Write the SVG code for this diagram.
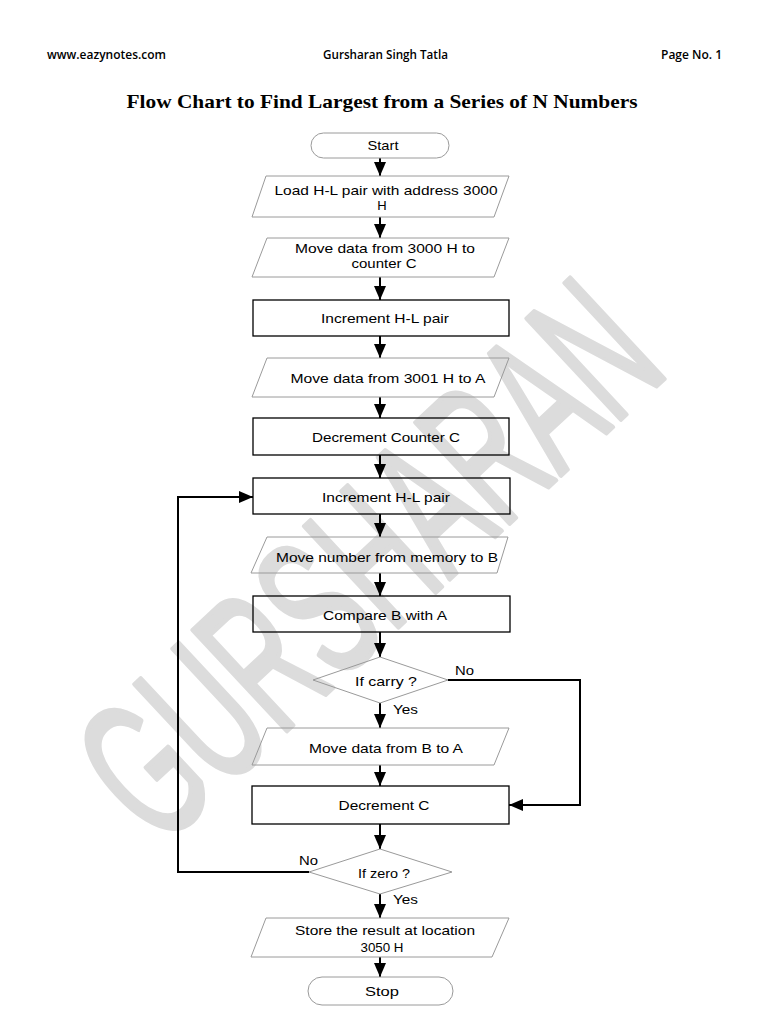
<svg xmlns="http://www.w3.org/2000/svg" width="768" height="1024" viewBox="0 0 768 1024">
<defs>
<marker id="ah" viewBox="0 0 14 12" refX="14" refY="6" markerWidth="14" markerHeight="12" markerUnits="userSpaceOnUse" orient="auto">
<path d="M0,0 L14,6 L0,12 z" fill="#000"/>
</marker>
<style>
.t{font-family:"Liberation Sans",Arial,sans-serif;font-size:13px;fill:#000;text-anchor:middle}
.lbl{font-family:"Liberation Sans",Arial,sans-serif;font-size:13px;fill:#000}
.hdr{font-family:"Open Sans","Liberation Sans",sans-serif;font-size:12px;font-weight:600;fill:#000}
.rect{fill:none;stroke:#000;stroke-width:1.3}
.soft{fill:none;stroke:#9a9a9a;stroke-width:1}
.c{fill:none;stroke:#000;stroke-width:2}
.ca{fill:none;stroke:#000;stroke-width:2;marker-end:url(#ah)}
</style>
</defs>
<rect width="768" height="1024" fill="#fff"/>
<text x="368" y="560" transform="rotate(-43 368 560)" font-family="Liberation Sans,Arial,sans-serif" font-size="200" fill="#dcdcdc" stroke="#dcdcdc" stroke-width="5" stroke-linejoin="round" text-anchor="middle" dominant-baseline="central" textLength="700" lengthAdjust="spacingAndGlyphs">GURSHARAN</text>
<g id="header">
<text class="hdr" x="47" y="59" textLength="119" lengthAdjust="spacingAndGlyphs">www.eazynotes.com</text>
<text class="hdr" x="323" y="59" textLength="125" lengthAdjust="spacingAndGlyphs">Gursharan Singh Tatla</text>
<text class="hdr" x="661" y="59" textLength="61" lengthAdjust="spacingAndGlyphs">Page No. 1</text>
<text x="382" y="108" font-family="Liberation Serif,serif" font-size="19" font-weight="bold" text-anchor="middle" textLength="511" lengthAdjust="spacingAndGlyphs">Flow Chart to Find Largest from a Series of N Numbers</text>
</g>
<g id="connectors">
<line class="ca" x1="380" y1="158" x2="380" y2="176"/>
<line class="ca" x1="380" y1="217" x2="380" y2="238"/>
<line class="ca" x1="380" y1="277" x2="380" y2="300"/>
<line class="ca" x1="380" y1="336" x2="380" y2="358"/>
<line class="ca" x1="380" y1="397" x2="380" y2="418"/>
<line class="ca" x1="380" y1="455" x2="380" y2="478"/>
<line class="ca" x1="380" y1="514" x2="380" y2="537"/>
<line class="ca" x1="380" y1="573" x2="380" y2="596"/>
<line class="ca" x1="380" y1="632" x2="380" y2="657"/>
<line class="ca" x1="380" y1="703" x2="380" y2="728"/>
<line class="ca" x1="380" y1="765" x2="380" y2="786"/>
<line class="ca" x1="380" y1="824" x2="380" y2="849"/>
<line class="ca" x1="380" y1="894" x2="380" y2="918"/>
<line class="ca" x1="380" y1="957" x2="380" y2="977"/>
<polyline class="ca" points="448,680 580,680 580,805 509,805"/>
<polyline class="ca" points="309,872 178,872 178,497 253,497"/>
<text class="lbl" x="455" y="675" textLength="19" lengthAdjust="spacingAndGlyphs">No</text>
<text class="lbl" x="393" y="714" textLength="25" lengthAdjust="spacingAndGlyphs">Yes</text>
<text class="lbl" x="299" y="865" textLength="19" lengthAdjust="spacingAndGlyphs">No</text>
<text class="lbl" x="393" y="904" textLength="25" lengthAdjust="spacingAndGlyphs">Yes</text>
</g>
<g id="start">
<rect class="soft" x="311" y="133" width="138" height="25" rx="12.5"/>
<text class="t" x="383" y="150" textLength="31" lengthAdjust="spacingAndGlyphs">Start</text>
</g>
<g id="load_hl">
<polygon class="soft" points="266,176 509,176 494,217 252,217"/>
<text class="t" x="386" y="195" textLength="223" lengthAdjust="spacingAndGlyphs">Load H-L pair with address 3000</text>
<text class="t" x="382" y="210">H</text>
</g>
<g id="move_counter">
<polygon class="soft" points="267,238 509,238 494,277 252,277"/>
<text class="t" x="385" y="253" textLength="180" lengthAdjust="spacingAndGlyphs">Move data from 3000 H to</text>
<text class="t" x="384" y="268" textLength="65" lengthAdjust="spacingAndGlyphs">counter C</text>
</g>
<g id="inc_hl1">
<rect class="rect" x="253" y="300" width="256" height="36"/>
<text class="t" x="385" y="323" textLength="128" lengthAdjust="spacingAndGlyphs">Increment H-L pair</text>
</g>
<g id="move_a">
<polygon class="soft" points="267,358 509,358 494,397 252,397"/>
<text class="t" x="388" y="383" textLength="195" lengthAdjust="spacingAndGlyphs">Move data from 3001 H to A</text>
</g>
<g id="dec_counter">
<rect class="rect" x="253" y="418" width="256" height="37"/>
<text class="t" x="386" y="442" textLength="148" lengthAdjust="spacingAndGlyphs">Decrement Counter C</text>
</g>
<g id="inc_hl2">
<rect class="rect" x="253" y="478" width="257" height="36"/>
<text class="t" x="386" y="502" textLength="128" lengthAdjust="spacingAndGlyphs">Increment H-L pair</text>
</g>
<g id="move_b">
<polygon class="soft" points="267,537 508,537 497,573 251,573"/>
<text class="t" x="387" y="562" textLength="222" lengthAdjust="spacingAndGlyphs">Move number from memory to B</text>
</g>
<g id="compare">
<rect class="rect" x="253" y="596" width="257" height="36"/>
<text class="t" x="385" y="620" textLength="124" lengthAdjust="spacingAndGlyphs">Compare B with A</text>
</g>
<g id="if_carry">
<polygon class="soft" points="380,657 448,680 380,703 313,680"/>
<text class="t" x="386" y="686" textLength="62" lengthAdjust="spacingAndGlyphs">If carry ?</text>
</g>
<g id="move_ba">
<polygon class="soft" points="267,728 509,728 494,765 252,765"/>
<text class="t" x="386" y="753" textLength="154" lengthAdjust="spacingAndGlyphs">Move data from B to A</text>
</g>
<g id="dec_c">
<rect class="rect" x="252" y="786" width="257" height="38"/>
<text class="t" x="384" y="810" textLength="91" lengthAdjust="spacingAndGlyphs">Decrement C</text>
</g>
<g id="if_zero">
<polygon class="soft" points="380,849 452,872 380,894 309,872"/>
<text class="t" x="384" y="878" textLength="52" lengthAdjust="spacingAndGlyphs">If zero ?</text>
</g>
<g id="store">
<polygon class="soft" points="266,918 509,918 492,957 251,957"/>
<text class="t" x="385" y="935" textLength="180" lengthAdjust="spacingAndGlyphs">Store the result at location</text>
<text class="t" x="382" y="952" textLength="43" lengthAdjust="spacingAndGlyphs">3050 H</text>
</g>
<g id="stop">
<rect class="soft" x="308" y="977" width="145" height="28" rx="14"/>
<text class="t" x="382" y="996" textLength="34" lengthAdjust="spacingAndGlyphs">Stop</text>
</g>
</svg>
